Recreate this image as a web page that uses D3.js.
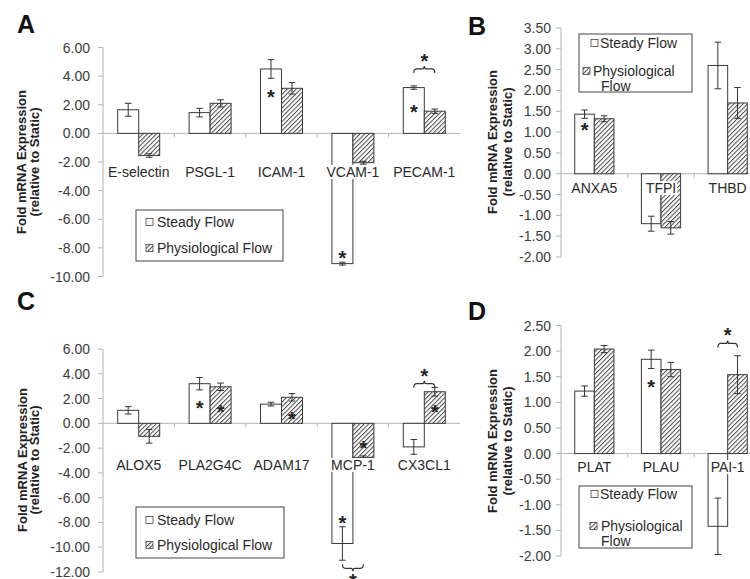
<!DOCTYPE html>
<html>
<head>
<meta charset="utf-8">
<script src="https://cdn.jsdelivr.net/npm/d3@7"></script>
<style>
  body { margin: 0; background: #fff; }
  svg { display: block; font-family: Arial, "Liberation Sans", sans-serif; }
</style>
</head>
<body>
<div id="wrapper"></div>
<script>
// 1. Data
// Panel A
const catsA = ["E-selectin", "PSGL-1", "ICAM-1", "VCAM-1", "PECAM-1"]
const steadyA = [1.65, 1.45, 4.5, -9.1, 3.2]
const steadyErrA = [0.45, 0.3, 0.65, 0.1, 0.12]
const physioA = [-1.55, 2.1, 3.15, -2.05, 1.55]
const physioErrA = [0.12, 0.25, 0.4, 0.1, 0.15]
const ticksA = [6, 4, 2, 0, -2, -4, -6, -8, -10]
const starsA = [["ICAM-1", "steady", 2.8], ["VCAM-1", "steady", -8.4], ["PECAM-1", "steady", 1.75]]
const bracketsA = [["PECAM-1", 4.5, "up"]]

// Panel B
const catsB = ["ANXA5", "TFPI", "THBD"]
const steadyB = [1.43, -1.2, 2.6]
const steadyErrB = [0.1, 0.18, 0.56]
const physioB = [1.32, -1.3, 1.7]
const physioErrB = [0.07, 0.15, 0.37]
const ticksB = [3.5, 3, 2.5, 2, 1.5, 1, 0.5, 0, -0.5, -1, -1.5, -2]
const starsB = [["ANXA5", "steady", 1.14]]
const bracketsB = []

// Panel C
const catsC = ["ALOX5", "PLA2G4C", "ADAM17", "MCP-1", "CX3CL1"]
const steadyC = [1.05, 3.2, 1.55, -9.7, -1.9]
const steadyErrC = [0.3, 0.5, 0.15, 1.35, 0.6]
const physioC = [-1.05, 2.95, 2.1, -2.75, 2.55]
const physioErrC = [0.55, 0.3, 0.3, 0.12, 0.35]
const ticksC = [6, 4, 2, 0, -2, -4, -6, -8, -10, -12]
const starsC = [["PLA2G4C", "steady", 1.6], ["PLA2G4C", "physio", 1.27], ["ADAM17", "physio", 0.65],
                ["MCP-1", "physio", -1.7], ["MCP-1", "steady", -7.7], ["CX3CL1", "physio", 1.2]]
const bracketsC = [["MCP-1", -11.7, "down"], ["CX3CL1", 3.2, "up"]]

// Panel D
const catsD = ["PLAT", "PLAU", "PAI-1"]
const steadyD = [1.22, 1.84, -1.42]
const steadyErrD = [0.1, 0.18, 0.55]
const physioD = [2.04, 1.64, 1.54]
const physioErrD = [0.07, 0.14, 0.37]
const ticksD = [2.5, 2, 1.5, 1, 0.5, 0, -0.5, -1, -1.5, -2]
const starsD = [["PLAU", "steady", 1.38]]
const bracketsD = [["PAI-1", 2.15, "up"]]

// 2. Layout (pixel positions only)
const panels = [
  { letter: "A", cats: catsA, steady: steadyA, steadyErr: steadyErrA, physio: physioA, physioErr: physioErrA,
    ticks: ticksA, stars: starsA, brackets: bracketsA,
    x0: 103, x1: 460, yTop: 47.5, yBot: 276.5, labelY: 172, tickGap: 13,
    letterPos: [17, 33], titleX: [21, 34.5], titleY: 162,
    legend: { x: 136, y: 210, w: 147, h: 51,
      rows: [{ s: "steady", sx: 146, tx: 157, y: 222, lines: ["Steady Flow"] },
             { s: "physio", sx: 146, tx: 157, y: 248, lines: ["Physiological Flow"] }] } },
  { letter: "B", cats: catsB, steady: steadyB, steadyErr: steadyErrB, physio: physioB, physioErr: physioErrB,
    ticks: ticksB, stars: starsB, brackets: bracketsB,
    x0: 561, x1: 761, yTop: 28, yBot: 257, labelY: 188, tickGap: 10,
    letterPos: [468, 35], titleX: [492.5, 507.5], titleY: 142,
    legend: { x: 579, y: 34, w: 113, h: 58,
      rows: [{ s: "steady", sx: 591, tx: 600, y: 43, lines: ["Steady Flow"] },
             { s: "physio", sx: 583, tx: 593, y: 71, lines: ["Physiological", "Flow"], indent: 8 }] } },
  { letter: "C", cats: catsC, steady: steadyC, steadyErr: steadyErrC, physio: physioC, physioErr: physioErrC,
    ticks: ticksC, stars: starsC, brackets: bracketsC,
    x0: 103, x1: 460, yTop: 349, yBot: 572, labelY: 465, tickGap: 13,
    letterPos: [17, 310], titleX: [22, 34.5], titleY: 460,
    legend: { x: 136, y: 507, w: 148, h: 51,
      rows: [{ s: "steady", sx: 146, tx: 157, y: 520, lines: ["Steady Flow"] },
             { s: "physio", sx: 146, tx: 157, y: 545, lines: ["Physiological Flow"] }] } },
  { letter: "D", cats: catsD, steady: steadyD, steadyErr: steadyErrD, physio: physioD, physioErr: physioErrD,
    ticks: ticksD, stars: starsD, brackets: bracketsD,
    x0: 561, x1: 761, yTop: 325.5, yBot: 556, labelY: 467, tickGap: 10,
    letterPos: [468, 320], titleX: [492.5, 507.5], titleY: 441,
    legend: { x: 579, y: 486, w: 113, h: 62,
      rows: [{ s: "steady", sx: 591, tx: 600, y: 494, lines: ["Steady Flow"] },
             { s: "physio", sx: 590, tx: 601, y: 526, lines: ["Physiological", "Flow"], indent: 0 }] } },
]

const barStroke = "#3a3a3a"
const axisColor = "#b4b4b4"

// 3. Canvas
const svg = d3.select("#wrapper").append("svg")
  .attr("width", 750).attr("height", 579)

svg.append("rect").attr("width", 750).attr("height", 579).attr("fill", "#fff")

const defs = svg.append("defs")
const pat = defs.append("pattern")
  .attr("id", "hatch")
  .attr("patternUnits", "userSpaceOnUse")
  .attr("width", 3.2).attr("height", 3.2)
  .attr("patternTransform", "rotate(45)")
pat.append("rect").attr("width", 3.2).attr("height", 3.2).attr("fill", "#fff")
pat.append("line")
  .attr("x1", 0.5).attr("y1", 0).attr("x2", 0.5).attr("y2", 3.2)
  .attr("stroke", "#4a4a4a").attr("stroke-width", 1)

function drawPanel(p) {
  const g = svg.append("g")

  const y = d3.scaleLinear()
    .domain([p.ticks[p.ticks.length - 1], p.ticks[0]])
    .range([p.yBot, p.yTop])
  const x = d3.scaleBand().domain(p.cats).range([p.x0, p.x1])
  const xs = d3.scaleBand().domain(["steady", "physio"])
    .range([0, x.bandwidth()]).paddingOuter(0.7)

  // axes
  g.append("line")
    .attr("x1", p.x0).attr("x2", p.x0)
    .attr("y1", p.yTop).attr("y2", p.yBot)
    .attr("stroke", axisColor)
  g.selectAll(".ytick").data(p.ticks).join("line")
    .attr("x1", p.x0 - 5).attr("x2", p.x0)
    .attr("y1", d => y(d)).attr("y2", d => y(d))
    .attr("stroke", axisColor)
  g.selectAll(".ylab").data(p.ticks).join("text")
    .attr("x", p.x0 - p.tickGap)
    .attr("y", d => y(d) + 5)
    .attr("text-anchor", "end")
    .attr("font-size", 14)
    .attr("fill", "#3c3c3c")
    .text(d => d.toFixed(2))

  g.append("line")
    .attr("x1", p.x0).attr("x2", p.x1)
    .attr("y1", y(0)).attr("y2", y(0))
    .attr("stroke", axisColor)
  g.selectAll(".xtick").data(p.cats.slice(1)).join("line")
    .attr("x1", d => x(d)).attr("x2", d => x(d))
    .attr("y1", y(0)).attr("y2", y(0) + 4)
    .attr("stroke", axisColor)

  // bars
  const rows = []
  p.cats.forEach((c, i) => {
    rows.push({ cat: c, s: "steady", v: p.steady[i], e: p.steadyErr[i] })
    rows.push({ cat: c, s: "physio", v: p.physio[i], e: p.physioErr[i] })
  })
  g.selectAll(".bar").data(rows).join("rect")
    .attr("x", d => x(d.cat) + xs(d.s))
    .attr("width", xs.bandwidth())
    .attr("y", d => y(Math.max(0, d.v)))
    .attr("height", d => Math.abs(y(d.v) - y(0)))
    .attr("fill", d => d.s === "steady" ? "#fff" : "url(#hatch)")
    .attr("stroke", barStroke)
    .attr("stroke-width", 1)

  // error bars
  const cx = d => x(d.cat) + xs(d.s) + xs.bandwidth() / 2
  const eb = g.selectAll(".err").data(rows).join("g").attr("stroke", "#333").attr("stroke-width", 1)
  eb.append("line").attr("x1", cx).attr("x2", cx)
    .attr("y1", d => y(d.v + d.e)).attr("y2", d => y(d.v - d.e))
  eb.append("line").attr("x1", d => cx(d) - 3.3).attr("x2", d => cx(d) + 3.3)
    .attr("y1", d => y(d.v + d.e)).attr("y2", d => y(d.v + d.e))
  eb.append("line").attr("x1", d => cx(d) - 3.3).attr("x2", d => cx(d) + 3.3)
    .attr("y1", d => y(d.v - d.e)).attr("y2", d => y(d.v - d.e))

  // significance stars
  const star = (sx, sy) => g.append("text")
    .attr("x", sx).attr("y", sy + 11)
    .attr("text-anchor", "middle")
    .attr("font-size", 20).attr("font-weight", "bold")
    .attr("fill", "#222")
    .text("*")
  p.stars.forEach(([c, s, lvl]) => star(cx({ cat: c, s: s }), y(lvl)))

  // brackets between the bars of a pair
  p.brackets.forEach(([c, lvl, dir]) => {
    const a = cx({ cat: c, s: "steady" })
    const b = cx({ cat: c, s: "physio" })
    const m = (a + b) / 2
    const yy = y(lvl)
    const k = dir === "up" ? 1 : -1
    g.append("path")
      .attr("d", `M${a},${yy + 4 * k} Q${a},${yy} ${a + 3},${yy} L${m - 2},${yy} Q${m},${yy} ${m},${yy - 3 * k} Q${m},${yy} ${m + 2},${yy} L${b - 3},${yy} Q${b},${yy} ${b},${yy + 4 * k}`)
      .attr("fill", "none").attr("stroke", "#333").attr("stroke-width", 1.2)
    star(m, yy - (dir === "up" ? 12 : -9))
  })

  // category labels (with white background like the original)
  p.cats.forEach(c => {
    const t = g.append("text")
      .attr("x", x(c) + x.bandwidth() / 2)
      .attr("y", p.labelY + 5)
      .attr("text-anchor", "middle")
      .attr("font-size", 14)
      .attr("fill", "#2a2a2a")
      .text(c)
    const bb = t.node().getBBox()
    g.insert("rect", () => t.node())
      .attr("x", bb.x - 1).attr("y", bb.y + 1)
      .attr("width", bb.width + 2).attr("height", bb.height - 2)
      .attr("fill", "#fff")
  })

  // axis title, two lines
  ;["Fold mRNA Expression", "(relative to Static)"].forEach((s, i) => {
    g.append("text")
      .attr("transform", `translate(${p.titleX[i] + 4.5},${p.titleY}) rotate(-90)`)
      .attr("font-size", 13).attr("font-weight", "bold").attr("fill", "#222")
      .attr("text-anchor", "middle")
      .text(s)
  })

  // panel letter
  g.append("text")
    .attr("x", p.letterPos[0]).attr("y", p.letterPos[1])
    .attr("font-size", 25).attr("font-weight", "bold").attr("fill", "#111")
    .text(p.letter)

  // legend
  const L = p.legend
  g.append("rect")
    .attr("x", L.x).attr("y", L.y).attr("width", L.w).attr("height", L.h)
    .attr("fill", "#fff").attr("stroke", "#444")
  L.rows.forEach(r => {
    g.append("rect")
      .attr("x", r.sx).attr("y", r.y - 3.5).attr("width", 7).attr("height", 7)
      .attr("fill", r.s === "steady" ? "#fff" : "url(#hatch)")
      .attr("stroke", "#444").attr("stroke-width", 0.8)
    r.lines.forEach((line, j) => {
      g.append("text")
        .attr("x", r.tx + (j > 0 ? r.indent : 0))
        .attr("y", r.y + 5 + j * 15)
        .attr("font-size", 14).attr("fill", "#2a2a2a")
        .text(line)
    })
  })
}

panels.forEach(drawPanel)
</script>
</body>
</html>
